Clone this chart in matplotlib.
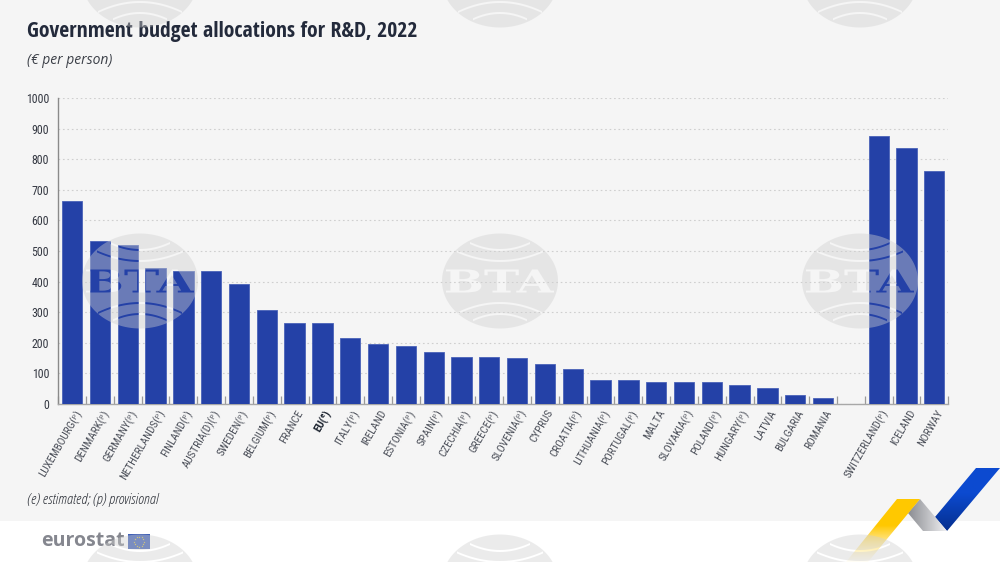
import numpy as np
import matplotlib
matplotlib.use("Agg")
import matplotlib.pyplot as plt
from matplotlib.path import Path
from matplotlib.patches import PathPatch, Polygon, Rectangle
from matplotlib.textpath import TextPath
from matplotlib.font_manager import FontProperties
from matplotlib.transforms import Affine2D

REG = ['Open Sans', 'DejaVu Sans']
COND = ['Roboto Condensed', 'DejaVu Sans']
HEAD = ['Open Sans Condensed', 'Roboto Condensed', 'DejaVu Sans']
plt.rcParams['font.family'] = REG

countries = ["LUXEMBOURG(ᵖ)", "DENMARK(ᵖ)", "GERMANY(ᵖ)", "NETHERLANDS(ᵖ)", "FINLAND(ᵖ)", "AUSTRIA(D)(ᵖ)",
             "SWEDEN(ᵖ)", "BELGIUM(ᵖ)", "FRANCE", "EU(ᵉ)", "ITALY(ᵖ)", "IRELAND", "ESTONIA(ᵖ)", "SPAIN(ᵖ)",
             "CZECHIA(ᵖ)", "GREECE(ᵖ)", "SLOVENIA(ᵖ)", "CYPRUS", "CROATIA(ᵖ)", "LITHUANIA(ᵖ)", "PORTUGAL(ᵖ)",
             "MALTA", "SLOVAKIA(ᵖ)", "POLAND(ᵖ)", "HUNGARY(ᵖ)", "LATVIA", "BULGARIA", "ROMANIA", "",
             "SWITZERLAND(ᵖ)", "ICELAND", "NORWAY"]
values = [663, 532, 519, 443, 436, 435, 393, 306, 265, 264, 216, 197, 191, 169, 153, 152, 150, 130, 115,
          80, 80, 73, 72, 71, 63, 52, 29, 20, np.nan, 875, 835, 762]
yticks = list(range(0, 1001, 100))

fig = plt.figure(figsize=(10, 5.62), dpi=100, facecolor='white')
W, H = 1000, 562
bg = fig.add_axes([0, 0, 1, 1], zorder=0)
bg.set_xlim(0, W); bg.set_ylim(H, 0); bg.axis('off')
bg.add_patch(Rectangle((0, 0), W, 521, fc='#f5f5f5', ec='none'))

ax = fig.add_axes([58.2 / W, 1 - 404 / H, 890 / W, 306 / H], zorder=1)
ax.patch.set_alpha(0)
x = np.arange(len(countries))
ax.bar(x, values, width=0.73, color='#2441a7', edgecolor='#4a63b8', linewidth=0.6, zorder=3)
ax.set_xlim(-0.5, len(countries) - 0.5)
ax.set_ylim(0, 1000)
ax.set_yticks(yticks)
ax.set_yticklabels([str(v) for v in yticks], fontsize=8.6, color='#343842', family=COND)
ax.tick_params(axis='y', length=0, pad=6.5)
ax.yaxis.grid(True, color='#cfcfcf', linestyle=(0, (1.5, 2.5)), linewidth=0.8, zorder=1)
ax.set_axisbelow(True)
ax.set_xticks(np.append(x - 0.5, len(x) - 0.5))
ax.set_xticklabels([''] * (len(x) + 1))
ax.tick_params(axis='x', direction='in', length=5.5, width=0.9, color='#9a9a9a')
for s in ('top', 'right'):
    ax.spines[s].set_visible(False)
ax.spines['left'].set_color('#8a8a8a')
ax.spines['bottom'].set_color('#a8a8a8')
ax.spines['left'].set_linewidth(1)
ax.spines['bottom'].set_linewidth(1)

for xi, name in zip(x, countries):
    if not name:
        continue
    bold = name.startswith('EU')
    ax.annotate(name, (xi, 0), xytext=(1.5, -3), textcoords='offset points', rotation=60,
                rotation_mode='anchor', ha='right', va='top', fontsize=8.0,
                color='#1d2430' if bold else '#4a4e58', fontweight='bold' if bold else 'normal',
                family=COND, annotation_clip=False)

fig.text(27 / W, 1 - 31 / H, "Government budget allocations for R&D, 2022", fontsize=15.7, fontweight='bold',
         color='#232a3b', family=HEAD, va='center', ha='left')
fig.text(27 / W, 1 - 60 / H, "(€ per person)", fontsize=10, style='italic', color='#3c4048',
         family=REG, va='center', ha='left')
fig.text(27 / W, 1 - 500 / H, "(e) estimated; (p) provisional", fontsize=11, style='italic', color='#2c3038',
         family=REG, stretch='condensed', va='center', ha='left')

# decoration layer above the chart
ov = fig.add_axes([0, 0, 1, 1], zorder=5)
ov.set_xlim(0, W); ov.set_ylim(H, 0); ov.axis('off'); ov.patch.set_alpha(0)

# eurostat logo
ov.text(41, 541, "eurostat", fontsize=14, fontweight='bold', color='#85878f',
        family=REG, va='center', ha='left')
ov.add_patch(Rectangle((128, 534), 22, 15, fc='#3f5fb5', ec='none'))
for a in np.linspace(0, 2 * np.pi, 12, endpoint=False):
    ov.plot(139 + 5 * np.cos(a), 541.5 + 5 * np.sin(a), 's', ms=0.9, color='#c9b84a', mew=0)

# chevrons
def grad(poly, c0, c1, extent, horizontal=False, hold=0.0):
    t = np.clip((np.linspace(0, 1, 64) - hold) / (1 - hold), 0, 1)
    c0 = np.array(matplotlib.colors.to_rgba(c0)); c1 = np.array(matplotlib.colors.to_rgba(c1))
    img = (c0[None, :] * (1 - t[:, None]) + c1[None, :] * t[:, None])
    img = img[None, :, :] if horizontal else img[:, None, :]
    im = ov.imshow(img, extent=extent, aspect='auto', zorder=3, interpolation='bilinear', origin='upper')
    p = Polygon(poly, closed=True, transform=ov.transData, fc='none', ec='none')
    ov.add_patch(p)
    im.set_clip_path(p)

grad([(976, 468), (1000, 468), (947, 531), (935, 517)], '#0c4ad0', '#052f8e', (935, 1000, 531, 468), hold=0.4)
grad([(920, 499), (947, 531), (923, 531), (908, 513)], '#8b8d92', '#f0f0f2', (908, 947, 531, 499), horizontal=True)
grad([(897, 499), (920, 499), (868, 562), (846, 562)], '#ffc800', '#ffe27010', (846, 920, 562, 499), hold=0.42)
ov.set_xlim(0, W); ov.set_ylim(H, 0)

# BTA watermark: ellipse with the arcs and letters cut out
ARCS = [(-32, -9, 34, 30), (-21, -10, 44, 43), (21, 11, 44, 42), (32, 10, 34, 27)]

def crescent(cx, cy, y0, sag, half, limit, th=2.0):
    xs = np.linspace(-limit, limit, 40)
    top = cy + y0 + sag * (xs / half) ** 2
    bot = top + th
    return np.column_stack([cx + np.r_[xs, xs[::-1]], np.r_[top, bot[::-1]]])

def watermark(cx, cy):
    a = -2 * np.pi * np.linspace(0, 1, 121)
    ell = np.column_stack([cx + 58 * np.cos(a), cy + 47.5 * np.sin(a)])
    comp = Path(ell, closed=True)
    fp = FontProperties(family='DejaVu Serif', weight='bold')
    tp = TextPath((0, 0), "BTA", size=34, prop=fp)
    bb = tp.get_extents()
    tr = (Affine2D().translate(-(bb.x0 + bb.x1) / 2, -(bb.y0 + bb.y1) / 2)
          .scale(108 / bb.width, -23 / bb.height).translate(cx, cy))
    comp = Path.make_compound_path(comp, tr.transform_path(tp))
    for y0, sag, half, limit in ARCS:
        c = crescent(cx, cy, y0, sag, half, limit)
        comp = Path.make_compound_path(comp, Path(np.r_[c, c[:1]], closed=True))
    ov.add_patch(PathPatch(comp, fc='#d0d0d0', ec='none', alpha=0.41, zorder=6))

for cx in (140, 500, 860):
    for cy in (-20, 281, 582):
        watermark(cx, cy)

fig.savefig('out.png', dpi=100)
